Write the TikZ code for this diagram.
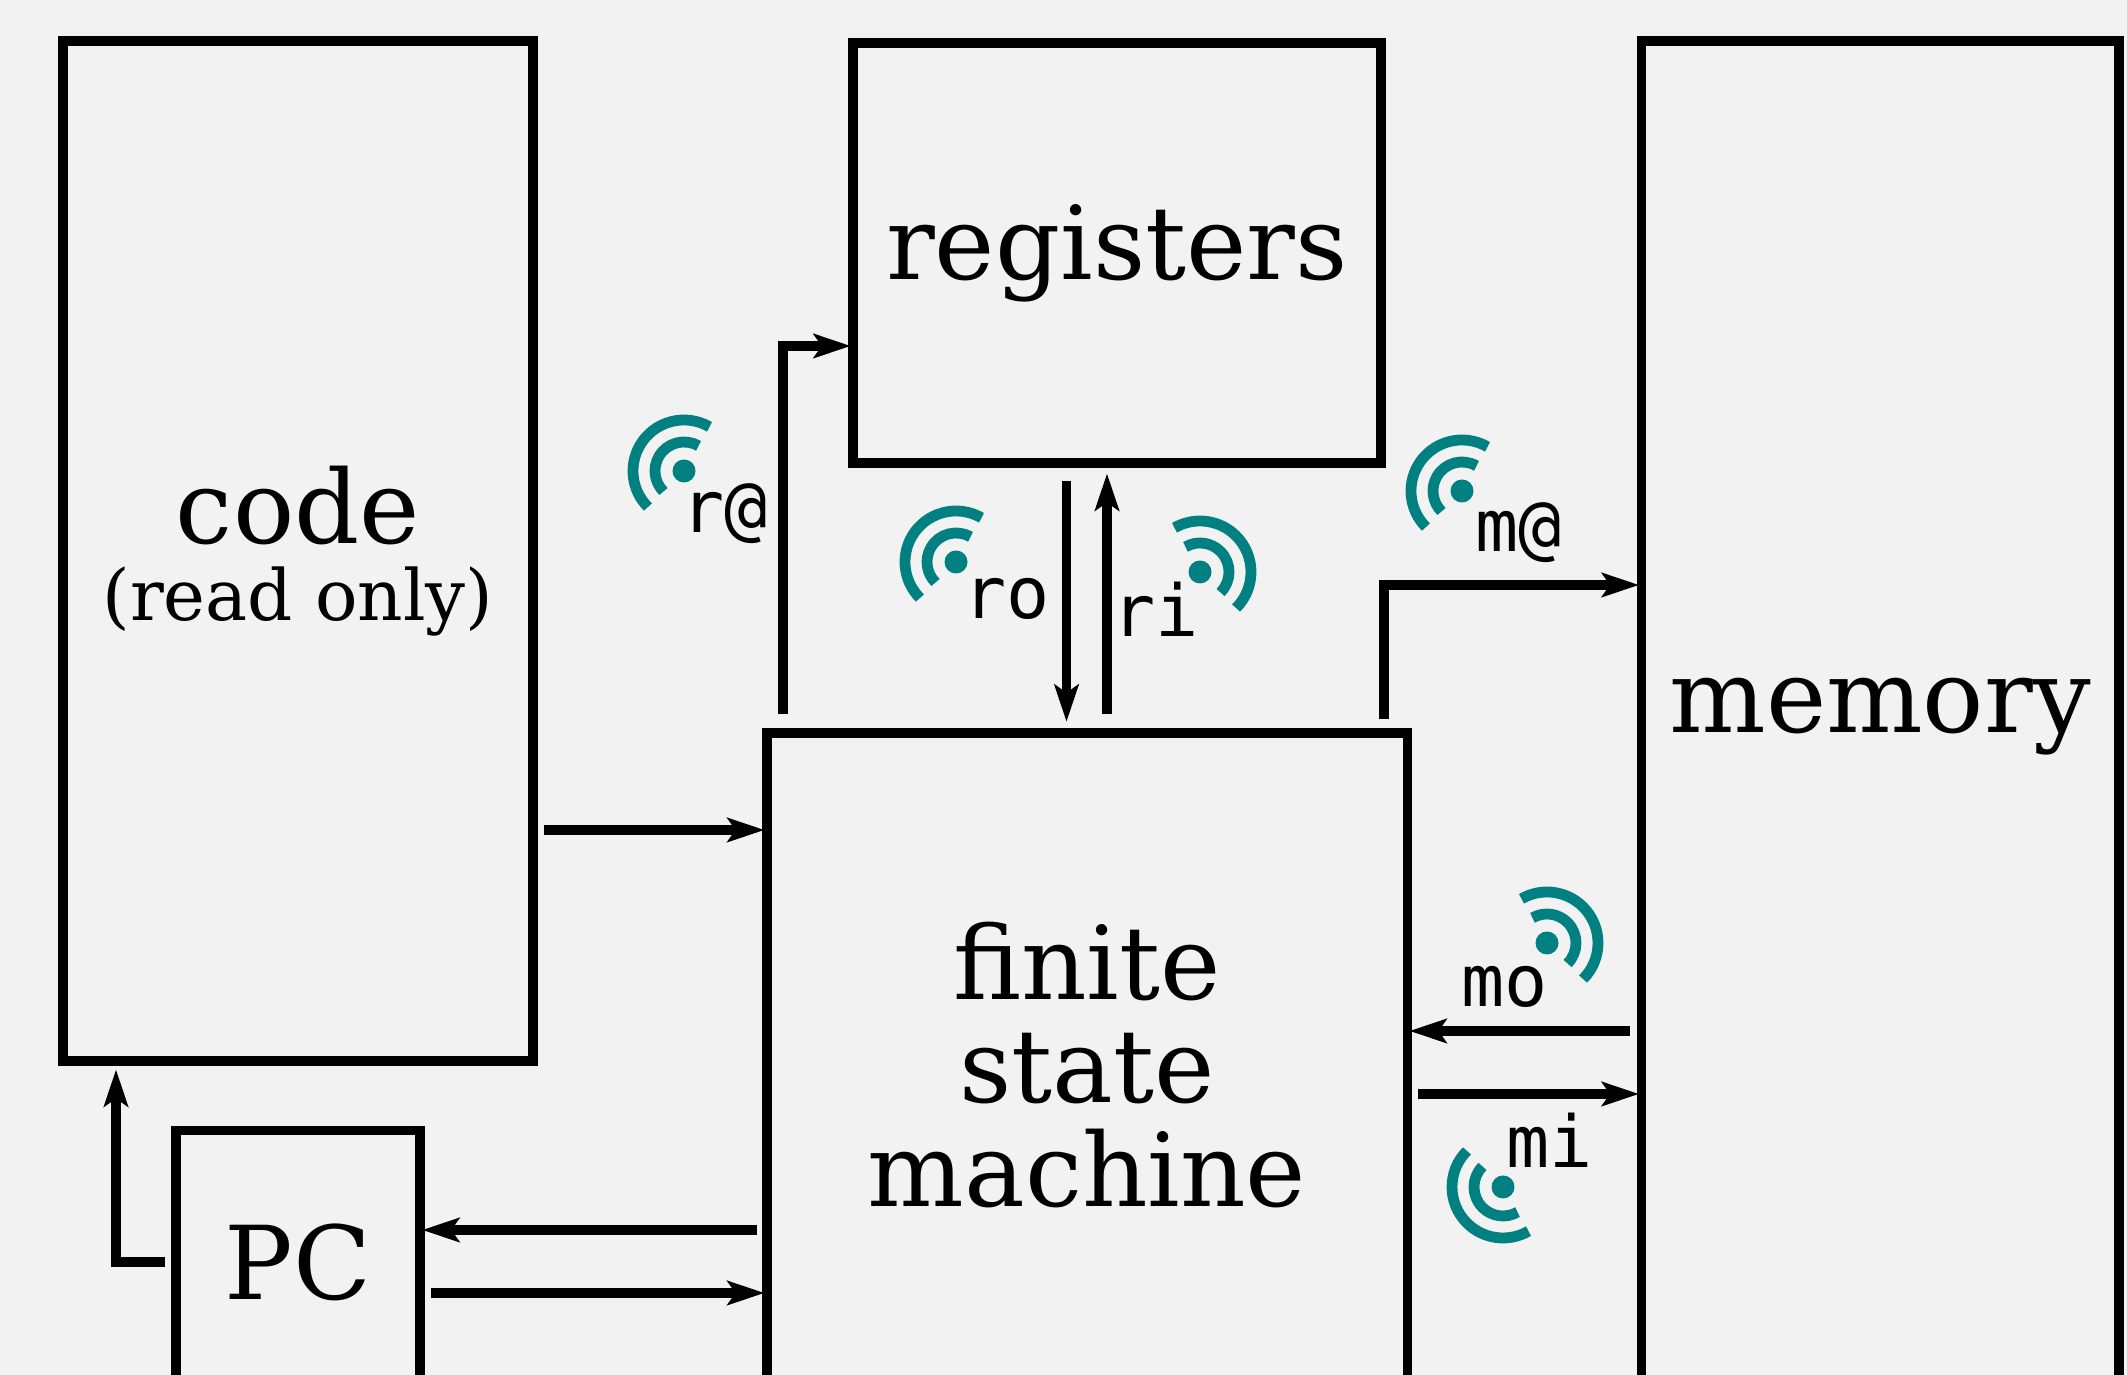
\documentclass[tikz,border=0pt]{standalone}
\usepackage{fontspec}
\setmainfont{DejaVu Serif}
\setmonofont{DejaVu Sans Mono}
\usetikzlibrary{calc, arrows.meta}
\definecolor{pagegray}{HTML}{F2F2F2}
\definecolor{signal}{HTML}{008080}
\tikzset{
    block/.style = {draw = black, line width = 0.095cm, align = center, inner sep = 0pt, font = \fontsize{29}{29.5}\selectfont},
    wire/.style = {black, line width = 0.095cm, shorten > = -0.025cm, -{Stealth[length = 3.7mm, width = 2.4mm, inset = 0.8mm]}},
    port/.style = {anchor = base west, inner sep = 0pt, font = \ttfamily\fontsize{20.4}{21}\selectfont},
    wave/.style = {signal, line width = 0.108cm}
}
\newcommand{\antenna}[3]{
    \begin{scope}[shift = {(#1, #2)}]
        \fill[signal](0, 0) circle (0.115cm);
        \draw[wave](#3:0.29) arc [start angle = #3, delta angle = 165, radius = 0.29cm];
        \draw[wave](#3:0.51) arc [start angle = #3, delta angle = 165, radius = 0.51cm];
    \end{scope}
}

\begin{document}
\begin{tikzpicture}
            \clip (0, 0) rectangle (21.27, 13.75);
            \fill[pagegray](0, 0) rectangle (21.27, 13.75);

            \node[block, minimum width = 4.70cm, minimum height = 10.20cm] (code) at (2.98, 8.24) {code \\[-7.6pt] {\fontsize{20.1}{21}\selectfont (read only)}};
            \node[block, minimum width = 5.28cm, minimum height = 4.20cm] (registers) at (11.17, 11.22) {registers};
            \node[block, minimum width = 6.405cm, minimum height = 6.64cm] (fsm) at (10.87, 3.10) {finite \\ state \\ machine};
            \node[block, minimum width = 4.775cm, minimum height = 13.51cm] (memory) at (18.80, 6.585) {memory};
            \node[block, minimum width = 2.44cm, minimum height = 2.63cm] (PC) at (2.98, 1.13) {PC};

            \coordinate (codeout) at (5.44, 5.45);
            \draw[wire](codeout) -- (codeout -| fsm.west);

            \coordinate (pcin) at (7.566, 1.45);
            \draw[wire](pcin) -- (pcin -| PC.east);
            \coordinate (pcout) at (4.306, 0.82);
            \draw[wire](pcout) -- (pcout -| fsm.west);

            \coordinate (pcnext) at ($(PC.west) + (-0.06, 0)$);
            \coordinate (codein) at (1.16, 3.03);
            \draw[wire](pcnext) -| (codein);

            \coordinate (raddr) at (7.83, 6.61);
            \coordinate (rturn) at (7.83, 10.29);
            \draw[wire](raddr) -- (rturn) -- (rturn -| registers.west);

            \coordinate (rofrom) at (10.665, 8.94);
            \coordinate (roto) at (10.665, 6.557);
            \draw[wire](rofrom) -- (roto);

            \coordinate (rifrom) at (11.07, 6.61);
            \coordinate (rito) at (11.07, 8.99);
            \draw[wire](rifrom) -- (rito);

            \coordinate (maddr) at (13.84, 6.56);
            \coordinate (mturn) at (13.84, 7.90);
            \draw[wire](maddr) -- (mturn) -- (mturn -| memory.west);

            \coordinate (mofrom) at (16.30, 3.44);
            \draw[wire](mofrom) -- (mofrom -| fsm.east);
            \coordinate (mifrom) at (14.18, 2.81);
            \draw[wire](mifrom) -- (mifrom -| memory.west);

            \antenna{6.84}{9.04}{60}
            \node[port] (raddrlabel) at (6.81, 8.42) {r@};
            \antenna{9.56}{8.13}{60}
            \node[port] (rolabel) at (9.63, 7.56) {ro};
            \antenna{12.00}{8.03}{-45}
            \node[port] (rilabel) at (11.12, 7.38) {ri};
            \antenna{14.62}{8.84}{60}
            \node[port] (maddrlabel) at (14.75, 8.23) {m@};
            \antenna{15.47}{4.32}{-45}
            \node[port] (molabel) at (14.61, 3.68) {mo};
            \antenna{15.03}{1.88}{135}
            \node[port] (milabel) at (15.06, 2.07) {mi};
        \end{tikzpicture}
\end{document}
